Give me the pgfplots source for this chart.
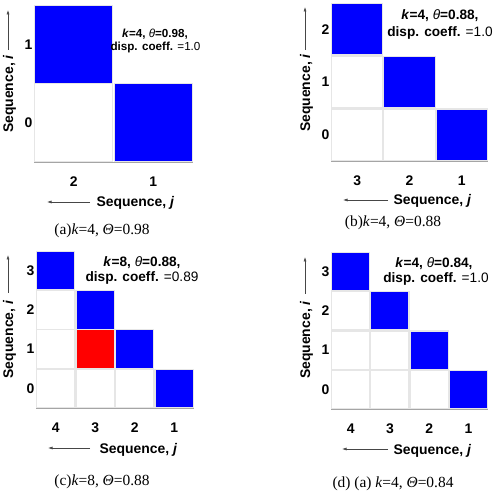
\documentclass[border=0pt]{standalone}
\usepackage{fontspec}
\setmainfont{Liberation Sans}
\newfontfamily\capfont{Liberation Serif}
\usepackage{pgfplots}
\pgfplotsset{compat=1.18}
\usetikzlibrary{arrows.meta}
\definecolor{gridc}{RGB}{230,230,230}
\definecolor{axc}{RGB}{165,165,165}
\definecolor{arrc}{RGB}{70,70,70}
\pgfplotsset{
  cellaxis/.style={
    scale only axis, anchor=south west, enlargelimits=false, clip=false,
    axis x line*=bottom, axis y line*=left,
    x axis line style={-, draw=axc, line width=0.9bp},
    y axis line style={draw=none},
    major tick length=0pt,
    /pgf/number format/assume math mode=true,
    ticklabel style={font=\bfseries\fontsize{14}{14}\selectfont},
    yticklabel style={inner sep=0pt, xshift=-1.5bp},
    xticklabel style={inner sep=0pt, yshift=-14.5bp},
  },
  cell/.style={only marks, mark=square*, mark options={draw=gridc, line width=1.1bp, fill=#1}},
}
\tikzset{
  lab/.style={font=\bfseries\fontsize{14}{14}\selectfont},
  ann/.style={font=\fontsize{13.7}{15}\selectfont, anchor=base},
  captxt/.style={font=\capfont\fontsize{15.5}{16}\selectfont, anchor=base},
  arr/.style={draw=arrc, line width=0.6bp, -{Latex[length=4.5bp,width=3bp]}},
}
\begin{document}
\begin{tikzpicture}
\path[use as bounding box] (0bp,0bp) rectangle (495bp,492bp);

% ---------------- (a) ----------------
\begin{axis}[cellaxis, at={(34bp,330bp)}, width=159bp, height=157bp,
  xmin=0.5, xmax=2.5, ymin=-0.5, ymax=1.5,
  xtick={1,2}, xticklabels={2,1}, ytick={0,1}]
\addplot[cell=white, mark size=39bp] coordinates {(1,0)};
\addplot[cell=blue, mark size=39bp] coordinates {(1,1) (2,0)};
\end{axis}
\node[ann, font=\fontsize{11.7}{13}\selectfont] at (155bp,454.8bp) {\textbf{\textit{k}=4, }\textit{θ}\textbf{=0.98,}};
\node[ann, font=\fontsize{11.7}{13}\selectfont] at (155.5bp,441.8bp) {\textbf{disp. coeff.} =1.0};
\node[lab, anchor=base west] at (93bp,285bp) {Sequence, \textit{j}};
\draw[arr] (90bp,290bp) -- (47bp,290bp);
\node[lab, anchor=base, rotate=90] at (13bp,398bp) {Sequence, \textit{i}};
\draw[arr] (8bp,442bp) -- (8bp,482bp);
\node[captxt] at (102bp,257bp) {(a)\textit{k}=4, \textit{Θ}=0.98};

% ---------------- (b) ----------------
\begin{axis}[cellaxis, at={(331bp,331bp)}, width=157bp, height=158bp,
  xmin=0.5, xmax=3.5, ymin=-0.5, ymax=2.5,
  xtick={1,2,3}, xticklabels={3,2,1}, ytick={0,1,2}]
\addplot[cell=white, mark size=25.7bp] coordinates {(1,1) (1,0) (2,0)};
\addplot[cell=blue, mark size=25.7bp] coordinates {(1,2) (2,1) (3,0)};
\end{axis}
\node[ann] at (440bp,472bp) {\textbf{\textit{k}=4, }\textit{θ}\textbf{=0.88,}};
\node[ann] at (440bp,455bp) {\textbf{disp. coeff.} =1.0};
\node[lab, anchor=base west] at (390bp,287bp) {Sequence, \textit{j}};
\draw[arr] (388bp,292bp) -- (343bp,292bp);
\node[lab, anchor=base, rotate=90] at (310bp,399bp) {Sequence, \textit{i}};
\draw[arr] (305bp,442bp) -- (305bp,485bp);
\node[captxt] at (393bp,265bp) {(b)\textit{k}=4, \textit{Θ}=0.88};

% ---------------- (c) ----------------
\begin{axis}[cellaxis, at={(36bp,84bp)}, width=158bp, height=157bp,
  xmin=0.5, xmax=4.5, ymin=-0.5, ymax=3.5,
  xtick={1,2,3,4}, xticklabels={4,3,2,1}, ytick={0,1,2,3}]
\addplot[cell=white, mark size=19.2bp] coordinates {(1,2) (1,1) (1,0) (2,0) (3,0)};
\addplot[cell=blue, mark size=19.2bp] coordinates {(1,3) (2,2) (3,1) (4,0)};
\addplot[cell=red, mark size=19.2bp] coordinates {(2,1)};
\end{axis}
\node[ann] at (142bp,225bp) {\textbf{\textit{k}=8, }\textit{θ}\textbf{=0.88,}};
\node[ann] at (142bp,210bp) {\textbf{disp. coeff.} =0.89};
\node[lab, anchor=base west] at (96bp,39bp) {Sequence, \textit{j}};
\draw[arr] (90bp,44bp) -- (48bp,44bp);
\node[lab, anchor=base, rotate=90] at (13bp,152.5bp) {Sequence, \textit{i}};
\draw[arr] (8bp,199bp) -- (8bp,237bp);
\node[captxt] at (102bp,7bp) {(c)\textit{k}=8, \textit{Θ}=0.88};

% ---------------- (d) ----------------
\begin{axis}[cellaxis, at={(331bp,83bp)}, width=157bp, height=157bp,
  xmin=0.5, xmax=4.5, ymin=-0.5, ymax=3.5,
  xtick={1,2,3,4}, xticklabels={4,3,2,1}, ytick={0,1,2,3}]
\addplot[cell=white, mark size=19.1bp] coordinates {(1,2) (1,1) (2,1) (1,0) (2,0) (3,0)};
\addplot[cell=blue, mark size=19.1bp] coordinates {(1,3) (2,2) (3,1) (4,0)};
\end{axis}
\node[ann] at (434bp,224bp) {\textbf{\textit{k}=4, }\textit{θ}\textbf{=0.84,}};
\node[ann] at (436bp,209bp) {\textbf{disp. coeff.} =1.0};
\node[lab, anchor=base west] at (390bp,38bp) {Sequence, \textit{j}};
\draw[arr] (388bp,43bp) -- (342bp,43bp);
\node[lab, anchor=base, rotate=90] at (310bp,152bp) {Sequence, \textit{i}};
\draw[arr] (305bp,198bp) -- (305bp,235bp);
\node[captxt] at (393bp,5bp) {(d) (a) \textit{k}=4, \textit{Θ}=0.84};
\end{tikzpicture}
\end{document}
